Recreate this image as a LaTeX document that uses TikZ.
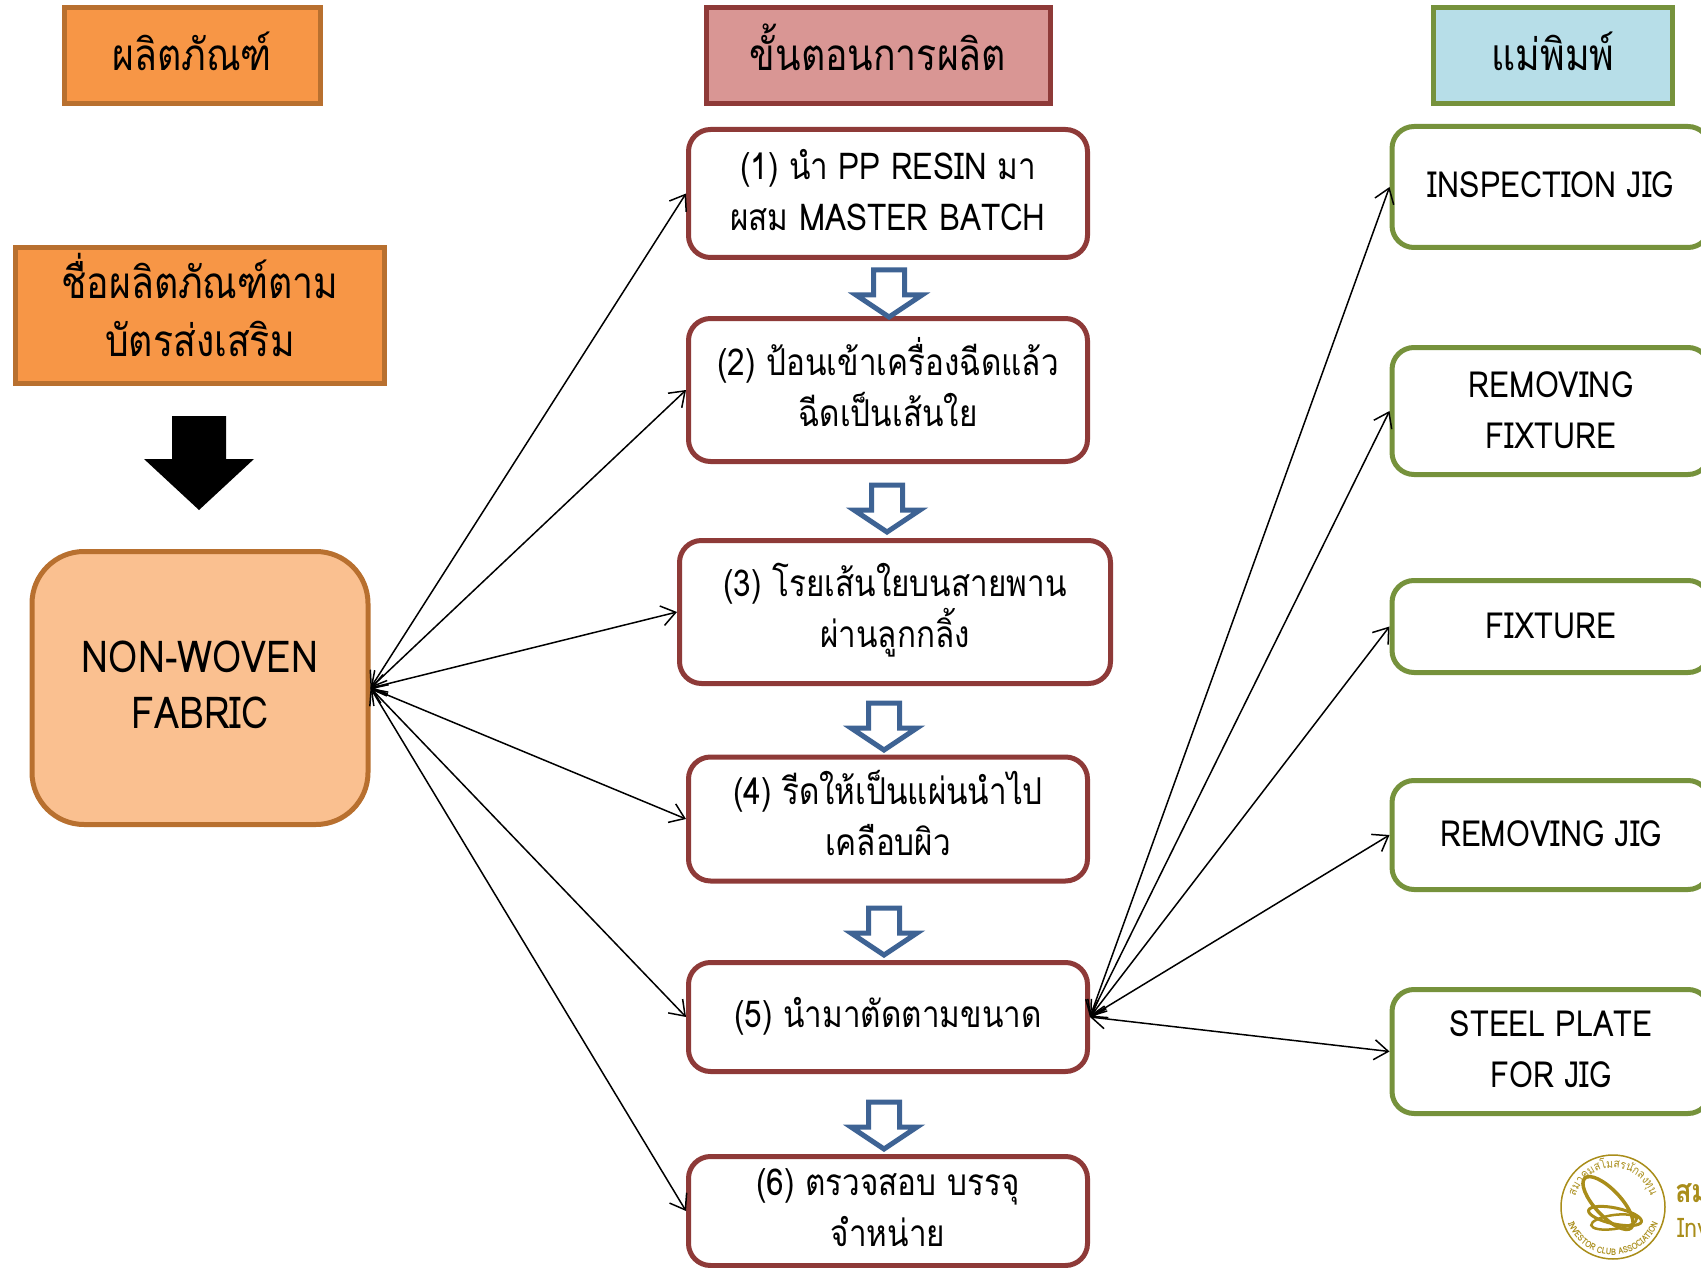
\documentclass[tikz,border=0pt]{standalone}
\usepackage{fontspec}
\usepackage{xcolor}
\setmainfont[Script=Thai,FakeStretch=0.85]{Loma}
\usetikzlibrary{arrows.meta,decorations.text}
\definecolor{orangefill}{HTML}{F79646}
\definecolor{orangeline}{HTML}{B8702F}
\definecolor{peachfill}{HTML}{FAC090}
\definecolor{redfill}{HTML}{D99694}
\definecolor{redline}{HTML}{8E3A38}
\definecolor{bluefill}{HTML}{B7DEE8}
\definecolor{greenline}{HTML}{76923C}
\definecolor{blueline}{HTML}{3E6394}
\definecolor{goldline}{HTML}{A98D1A}
\tikzset{
  txt/.style={align=center,text=black,inner sep=0pt,
    execute at begin node={\rule{0pt}{1em}}},
  lower/.style={execute at begin node={\rule{0pt}{#1}}},
  higher/.style={execute at end node={\rule[-#1]{0pt}{#1}}},
  head/.style={txt,higher=0.47em,font=\fontsize{44}{58}\selectfont,draw,line width=5pt},
  stepbox/.style={txt,font=\fontsize{37}{51}\selectfont,draw=redline,line width=5pt,fill=white,rounded corners=22pt,minimum width=#1},
  stepbox/.default=400pt,
  jigbox/.style={txt,font=\fontsize{36}{51}\selectfont,draw=greenline,line width=5pt,fill=white,rounded corners=22pt,minimum width=318pt},
  link/.style={<->,>={Straight Barb[length=14pt,width=20pt]},line width=1.5pt}
}
\begin{document}
\begin{tikzpicture}[x=1pt,y=-1pt]
  \useasboundingbox (0,0) rectangle (1701,1268);
  \clip (0,0) rectangle (1701,1268);
  \node[head,lower=50pt,fill=orangefill,draw=orangeline,minimum width=256pt,minimum height=96pt] (prod) at (192,56) {ผลิตภัณฑ์};
  \node[head,lower=50pt,fill=redfill,draw=redline,minimum width=344pt,minimum height=96pt] (proc) at (878,56) {ขั้นตอนการผลิต};
  \node[head,lower=50pt,fill=bluefill,draw=greenline,minimum width=239pt,minimum height=96pt] (mold) at (1553,56) {แม่พิมพ์};
  \node[head,fill=orangefill,draw=orangeline,minimum width=369pt,minimum height=136pt] (name) at (200,315.5) {ชื่อผลิตภัณฑ์ตาม\\บัตรส่งเสริม};
  \fill (172,416) -- (226,416) -- (226,459) -- (254,459) -- (199,510) -- (144,459) -- (172,459) -- cycle;
  \node[txt,lower=101pt,higher=0.47em,font=\fontsize{44}{56}\selectfont,draw=orangeline,line width=5pt,fill=peachfill,rounded corners=52pt,minimum width=336pt,minimum height=273pt] (fabric) at (200,688) {NON-WOVEN\\FABRIC};

  \node[stepbox=399pt,lower=94pt,higher=20pt,minimum height=128pt] (p1) at (888,193.5) {(1) นำ PP RESIN มา\\ผสม MASTER BATCH};
  \node[stepbox=399pt,lower=94pt,higher=22pt,minimum height=143pt] (p2) at (888,390) {(2) ป้อนเข้าเครื่องฉีดแล้ว\\ฉีดเป็นเส้นใย};
  \node[stepbox=431pt,lower=94pt,higher=24pt,minimum height=143pt] (p3) at (895,612) {(3) โรยเส้นใยบนสายพาน\\ผ่านลูกกลิ้ง};
  \node[stepbox=399pt,lower=94pt,higher=22pt,minimum height=124pt] (p4) at (888,819) {(4) รีดให้เป็นแผ่นนำไป\\เคลือบผิว};
  \node[stepbox=399pt,lower=39pt,higher=0.47em,minimum height=109pt] (p5) at (888,1017) {(5) นำมาตัดตามขนาด};
  \node[stepbox=399pt,lower=89pt,higher=19pt,minimum height=109pt] (p6) at (888,1211) {(6) ตรวจสอบ บรรจุ\\จำหน่าย};

  \foreach \x/\y in {889/270,887/485,884/703,884/908,884/1102}
    \draw[blueline,line width=5pt,fill=white,miter limit=4] (\x-15.5,\y) -- (\x+15.5,\y) -- (\x+15.5,\y+25) -- (\x+33,\y+25) -- (\x,\y+47) -- (\x-33,\y+25) -- (\x-15.5,\y+25) -- cycle;

  \node[jigbox,lower=38pt,higher=0.47em,minimum height=121pt] (j1) at (1551,187) {INSPECTION JIG};
  \node[jigbox,lower=94pt,higher=20pt,minimum height=127pt] (j2) at (1551,411) {REMOVING\\FIXTURE};
  \node[jigbox,lower=40pt,higher=0.47em,minimum height=92pt] (j3) at (1551,626.5) {FIXTURE};
  \node[jigbox,lower=40pt,higher=0.47em,minimum height=109pt] (j4) at (1551,835) {REMOVING JIG};
  \node[jigbox,lower=94pt,higher=22pt,minimum height=124pt] (j5) at (1551,1051.5) {STEEL PLATE\\FOR JIG};

  \foreach \n in {p1,p2,p3,p4,p5,p6}
    \draw[link] (fabric.east) -- (\n.west);
  \foreach \n in {j1,j2,j3,j4,j5}
    \draw[link] (p5.east) -- (\n.west);

  \draw[goldline,line width=1.5pt] (1613,1207) circle [radius=52];
  \draw[goldline,line width=3.5pt,rotate around={-47:(1608,1203)}] (1608,1203) ellipse [x radius=34,y radius=13];
  \draw[goldline,line width=3pt,rotate around={-12:(1615,1216)}] (1615,1216) ellipse [x radius=27,y radius=8];
  \draw[goldline,line width=2.5pt,rotate around={8:(1614,1222)}] (1614,1222) ellipse [x radius=23,y radius=7];
  \path[postaction={decorate,decoration={text along path,text align=center,text={|\fontsize{12}{12}\selectfont\color{goldline}|สมาคมสโมสรนักลงทุน}}}] (1574,1207) arc [start angle=180,end angle=360,radius=39];
  \path[postaction={decorate,decoration={text along path,text align=center,text={|\fontsize{9}{9}\selectfont\bfseries\color{goldline}|INVESTOR CLUB ASSOCIATION}}}] (1565,1207) arc [start angle=180,end angle=0,radius=48];
  \node[text=goldline,font=\fontsize{32}{32}\selectfont\bfseries,anchor=west,inner sep=0pt] (assoc) at (1675,1193) {สม};
  \node[text=goldline,font=\fontsize{27}{27}\selectfont,anchor=west,inner sep=0pt] (inv) at (1677,1228) {Inv};
\end{tikzpicture}
\end{document}
